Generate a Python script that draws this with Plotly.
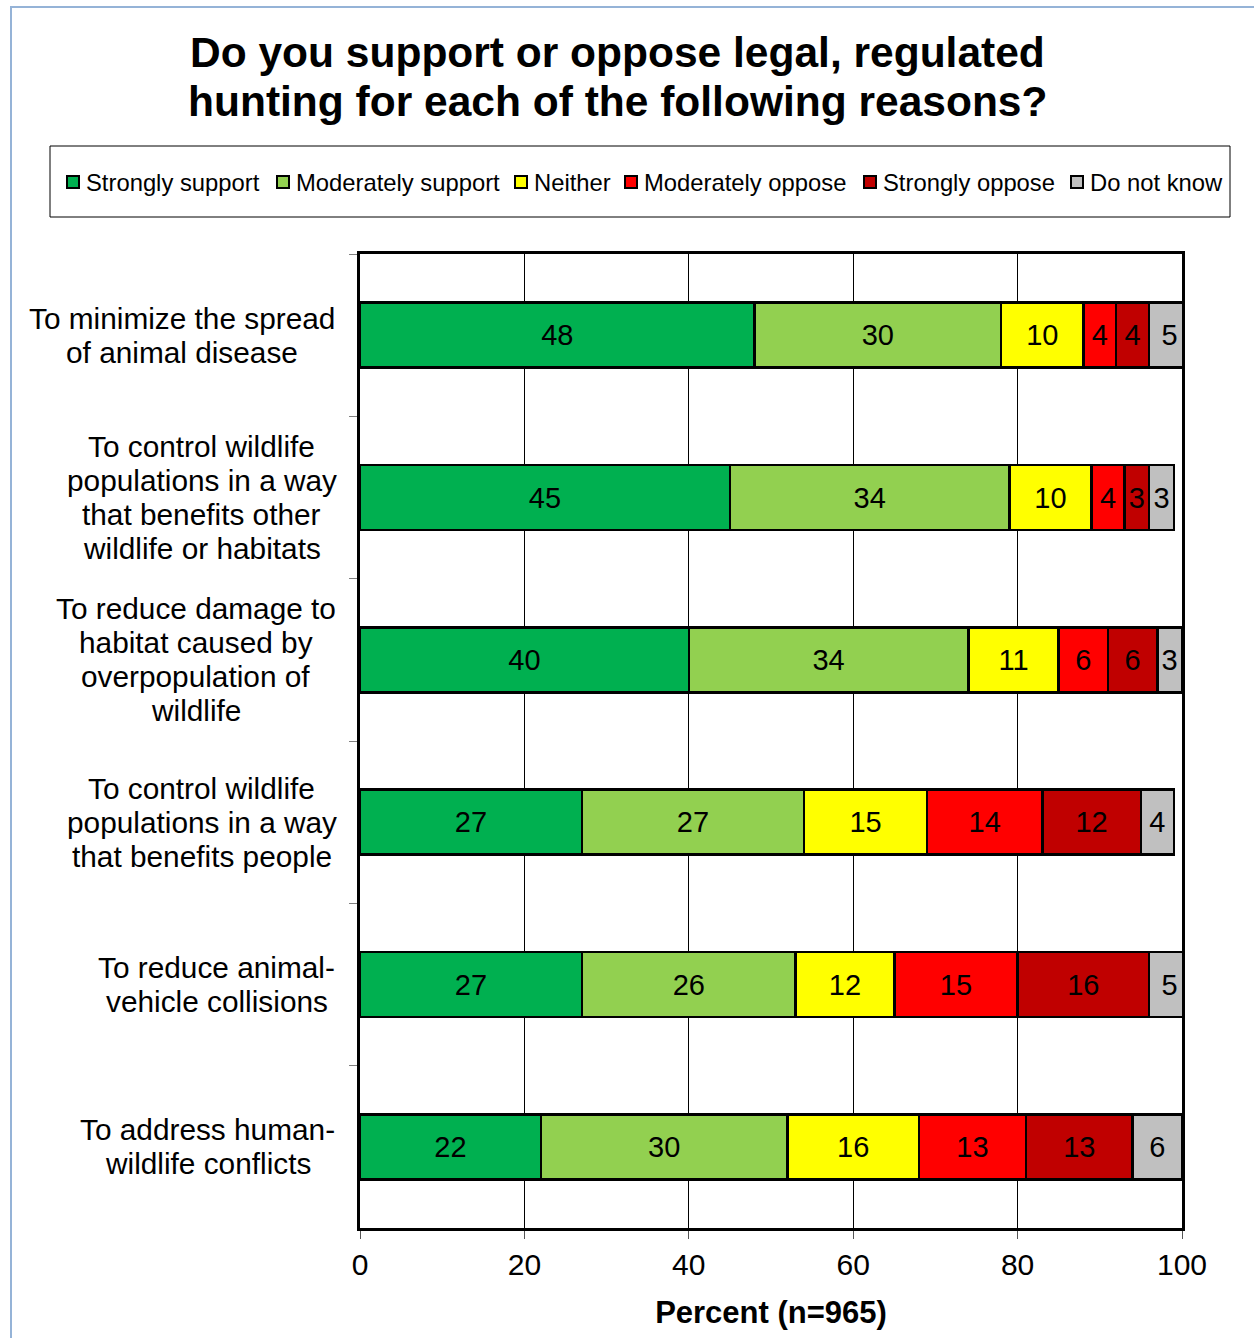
import plotly.graph_objects as go

# Survey: support or opposition to legal, regulated hunting, by reason (percent, n=965)
categories = [
    "To minimize the spread<br>of animal disease",
    "To control wildlife<br>populations in a way<br>that benefits other<br>wildlife or habitats",
    "To reduce damage to<br>habitat caused by<br>overpopulation of<br>wildlife",
    "To control wildlife<br>populations in a way<br>that benefits people",
    "To reduce animal-<br>vehicle collisions",
    "To address human-<br>wildlife conflicts",
]
series_names = [
    "Strongly support",
    "Moderately support",
    "Neither",
    "Moderately oppose",
    "Strongly oppose",
    "Do not know",
]
strongly_support = [48, 45, 40, 27, 27, 22]
moderately_support = [30, 34, 34, 27, 26, 30]
neither = [10, 10, 11, 15, 12, 16]
moderately_oppose = [4, 4, 6, 14, 15, 13]
strongly_oppose = [4, 3, 6, 12, 16, 13]
do_not_know = [5, 3, 3, 4, 5, 6]
x_ticks = [0, 20, 40, 60, 80, 100]

series_values = [strongly_support, moderately_support, neither,
                 moderately_oppose, strongly_oppose, do_not_know]
colors = ["#00B050", "#92D050", "#FFFF00", "#FF0000", "#C00000", "#C0C0C0"]

FONT = "Liberation Sans, Arial, sans-serif"
W, H = 1254, 1338
ML, MR, MT, MB = 360, 72, 254, 110
PW, PH = W - ML - MR, H - MT - MB


def xp(px):
    return (px - ML) / PW


def yp(py):
    return (H - MB - py) / PH


fig = go.Figure()
for name, vals, col in zip(series_names, series_values, colors):
    fig.add_trace(go.Bar(
        name=name,
        y=categories,
        x=vals,
        orientation="h",
        marker=dict(color=col, line=dict(color="black", width=2.5)),
        text=[str(v) for v in vals],
        textposition="inside",
        insidetextanchor="middle",
        textangle=0,
        textfont=dict(family=FONT, size=29, color="black"),
        showlegend=False,
        hoverinfo="x+name",
    ))

annotations = []

# Two-line bold heading
for line, py in [("Do you support or oppose legal, regulated", 53),
                 ("hunting for each of the following reasons?", 102)]:
    annotations.append(dict(
        text="<b>" + line + "</b>", xref="paper", yref="paper",
        x=xp(617), y=yp(py), xanchor="center", yanchor="middle",
        showarrow=False, font=dict(family=FONT, size=42.5, color="black"),
    ))

# Category labels: centered lines, stacked 34px apart
label_centers_px = [182, 201.5, 195.5, 201.5, 216.5, 207.5]
for cat, cx in zip(categories, label_centers_px):
    lines = cat.split("<br>")
    n = len(lines)
    for k, ln in enumerate(lines):
        annotations.append(dict(
            text=ln, xref="paper", yref="y", x=xp(cx), y=cat,
            xanchor="center", yanchor="middle",
            yshift=-(k - (n - 1) / 2) * 34,
            showarrow=False, font=dict(family=FONT, size=29.8, color="black"),
        ))

# Legend row drawn inside a framed box
legend_square_px = [67, 277, 515, 625, 864, 1071]
legend_y = 182
shapes = []
for name, col, sx in zip(series_names, colors, legend_square_px):
    shapes.append(dict(
        type="rect", xref="paper", yref="paper",
        x0=xp(sx), x1=xp(sx + 12), y0=yp(legend_y + 6), y1=yp(legend_y - 6),
        fillcolor=col, line=dict(color="black", width=2),
    ))
    annotations.append(dict(
        text=name, xref="paper", yref="paper", x=xp(sx + 17), y=yp(legend_y),
        xanchor="left", yanchor="middle", showarrow=False,
        font=dict(family=FONT, size=23.8, color="black"),
    ))
shapes.append(dict(
    type="rect", xref="paper", yref="paper",
    x0=xp(50), x1=xp(1230), y0=yp(217), y1=yp(146),
    line=dict(color="black", width=1), fillcolor="rgba(0,0,0,0)",
))
# Outer chart frame
shapes.append(dict(
    type="rect", xref="paper", yref="paper",
    x0=xp(11), x1=xp(1290), y0=yp(1380), y1=yp(7),
    line=dict(color="#95B3D7", width=2), fillcolor="rgba(0,0,0,0)", layer="below",
))

fig.update_layout(
    width=W, height=H,
    margin=dict(l=ML, r=MR, t=MT, b=MB, pad=0),
    barmode="stack",
    bargap=0.6,
    plot_bgcolor="white",
    paper_bgcolor="white",
    font=dict(family=FONT, color="black"),
    annotations=annotations,
    shapes=shapes,
    showlegend=False,
)
fig.update_xaxes(
    range=[0, 100],
    tickvals=x_ticks,
    ticktext=[str(t) for t in x_ticks],
    tickfont=dict(family=FONT, size=30, color="black"),
    ticks="outside", ticklen=8, tickwidth=1, tickcolor="#555555",
    showgrid=True, gridcolor="black", gridwidth=1,
    zeroline=False,
    showline=True, linecolor="black", linewidth=2.5, mirror=True,
    title=dict(text="<b>Percent (n=965)</b>",
               font=dict(family=FONT, size=31, color="black"), standoff=22),
)
fig.update_yaxes(
    type="category",
    categoryorder="array",
    categoryarray=categories,
    autorange="reversed",
    tickson="boundaries",
    ticks="outside", ticklen=8, tickwidth=1, tickcolor="#808080",
    showticklabels=False,
    showgrid=False,
    zeroline=False,
    showline=True, linecolor="black", linewidth=3, mirror=True,
)

fig.write_html("out.html")
